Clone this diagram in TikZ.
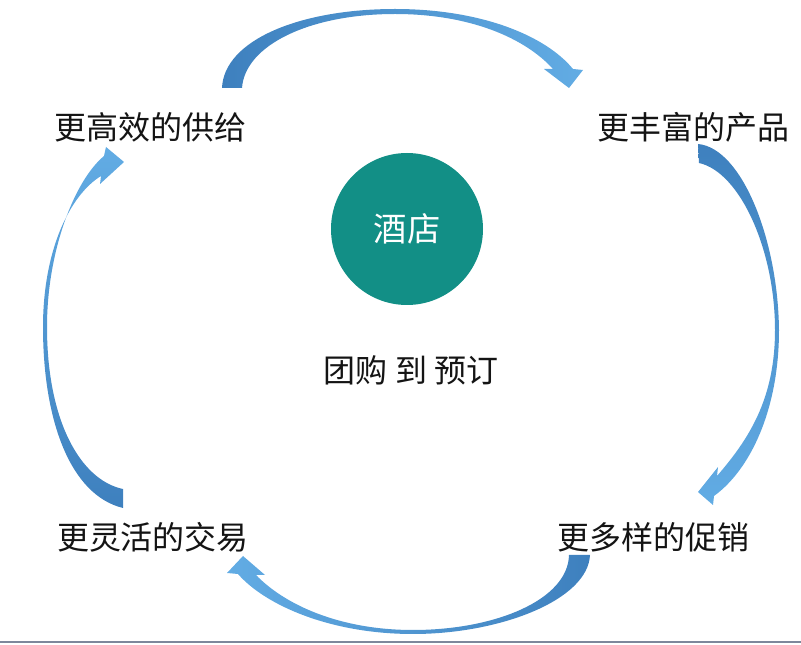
\documentclass[tikz,border=0pt]{standalone}
\usepackage{fontspec}
\setmainfont{Noto Sans CJK SC}
\usetikzlibrary{backgrounds}
\definecolor{hubteal}{RGB}{18,143,134}
\definecolor{arcdark}{RGB}{62,128,190}
\definecolor{arclight}{RGB}{98,172,228}
\definecolor{footgray}{RGB}{125,135,155}
\tikzset{
  lbl/.style = {font=\fontsize{24}{28}\selectfont, text=black!92, inner sep=0pt},
  sub/.style = {font=\fontsize{24}{28}\selectfont, text=black!92, inner sep=0pt},
  hub/.style = {circle, fill=hubteal, text=white, inner sep=0pt,
    minimum size=114pt, font=\fontsize{25}{30}\selectfont},
  arc/.style = {draw=none},
  foot/.style = {draw=footgray, line width=0.8pt}
}

\begin{document}
\begin{tikzpicture}[x=0.75pt, y=-0.75pt]
  \useasboundingbox (0,0) rectangle (801,645);
  \node [hub] (hotel) at (407,229) {酒店};
  \node [sub] (shift) at (411,370) {团购 到 预订};
  \node [lbl] (supply) at (151,127) {更高效的供给};
  \node [lbl] (product) at (693,127) {更丰富的产品};
  \node [lbl] (promo) at (653,537) {更多样的促销};
  \node [lbl] (deal) at (153,537) {更灵活的交易};
  % top
  \shade [arc, left color=arcdark, right color=arclight]
    (222,88) .. controls (224,40) and (300,9) .. (395,9)
    .. controls (480,9) and (545,35) .. (573,69)
    -- (583,70) -- (569,88) -- (544,69) -- (553,69)
    .. controls (525,38) and (470,14) .. (395,14)
    .. controls (310,14) and (245,45) .. (242,88) -- cycle;
  % right
  \shade [arc, top color=arcdark, bottom color=arclight]
    (698,144) .. controls (742,148) and (778,240) .. (779,330)
    .. controls (779,410) and (750,470) .. (714,496)
    -- (713,505) -- (698,492) -- (718,467) -- (717,476)
    .. controls (748,440) and (775,400) .. (775,330)
    .. controls (775,250) and (740,172) .. (699,163) -- cycle;
  % bottom
  \shade [arc, right color=arcdark, left color=arclight]
    (590,555) .. controls (588,600) and (500,634) .. (413,634)
    .. controls (330,634) and (265,605) .. (238,574)
    -- (227,573) -- (243,556) -- (265,575) -- (256,575)
    .. controls (285,605) and (340,630) .. (413,630)
    .. controls (495,630) and (568,600) .. (569,555) -- cycle;
  % left
  \shade [arc, bottom color=arcdark, top color=arclight]
    (123,508) .. controls (70,495) and (43,420) .. (43,327)
    .. controls (43,250) and (70,195) .. (101,176)
    -- (100,184) -- (124,162) -- (106,147) -- (104,156)
    .. controls (75,180) and (47,250) .. (47,327)
    .. controls (47,420) and (80,480) .. (123,489) -- cycle;
  \draw [foot] (0,642) -- (801,642);
\end{tikzpicture}
\end{document}
